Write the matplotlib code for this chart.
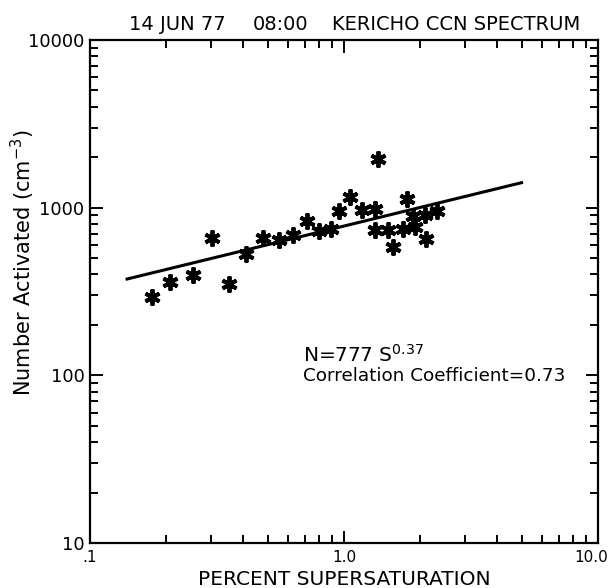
import numpy as np
import matplotlib
matplotlib.use("Agg")
import matplotlib.pyplot as plt
from matplotlib.ticker import FixedLocator, FixedFormatter, LogLocator, NullFormatter
from matplotlib.transforms import ScaledTranslation

# CCN spectrum, Kericho, 14 Jun 77 08:00
supersat = [0.176, 0.207, 0.254, 0.301, 0.354, 0.412, 0.480, 0.553, 0.630, 0.712,
            0.797, 0.886, 0.958, 1.056, 1.175, 1.326, 1.366, 1.326, 1.488, 1.566,
            1.70, 1.769, 1.862, 1.909, 2.077, 2.108, 2.32]
n_activated = [292, 362, 399, 661, 349, 530, 661, 638, 684, 828,
               722, 750, 960, 1158, 964, 986, 1950, 739, 739, 581,
               746, 1133, 896, 767, 908, 653, 951]

fit_coef = 777
fit_exp = 0.37
fit_range = [0.14, 5.0]

x_ticks = [0.1, 1.0, 10.0]
x_labels = [".1", "1.0", "10.0"]
y_ticks = [10, 100, 1000, 10000]
y_labels = ["10", "100", "1000", "10000"]

fig = plt.figure(figsize=(6.11, 5.88), dpi=100)
ax = fig.add_axes([90 / 611, 45 / 588, 508 / 611, 503 / 588])

s_fit = np.logspace(np.log10(fit_range[0]), np.log10(fit_range[1]), 100)
ax.plot(s_fit, fit_coef * s_fit ** fit_exp, color="black", lw=2.2)
ax.plot(supersat, n_activated, linestyle="none", marker=(6, 2, 0),
        markersize=11.5, markeredgewidth=2.8, color="black")

ax.set_xscale("log")
ax.set_yscale("log")
ax.set_xlim(0.1, 10)
ax.set_ylim(10, 10000)

ax.xaxis.set_major_locator(FixedLocator(x_ticks))
ax.xaxis.set_major_formatter(FixedFormatter(x_labels))
ax.yaxis.set_major_locator(FixedLocator(y_ticks))
ax.yaxis.set_major_formatter(FixedFormatter(y_labels))
ax.xaxis.set_minor_locator(LogLocator(base=10, subs=np.arange(2, 10)))
ax.yaxis.set_minor_locator(LogLocator(base=10, subs=np.arange(2, 10)))
ax.xaxis.set_minor_formatter(NullFormatter())
ax.yaxis.set_minor_formatter(NullFormatter())

ax.tick_params(which="both", direction="in", top=True, right=True, width=1.4)
ax.tick_params(which="major", length=9)
ax.tick_params(which="minor", length=5.5)
ax.tick_params(axis="x", which="major", labelsize=11, pad=5)
ax.tick_params(axis="y", which="major", labelsize=13, pad=4)
for sp in ax.spines.values():
    sp.set_linewidth(1.6)

# nudge the last x label so it stays inside the figure
last = ax.get_xticklabels()[-1]
last.set_transform(last.get_transform() + ScaledTranslation(-5 / 72, 0, fig.dpi_scale_trans))

ax.set_xlabel("PERCENT SUPERSATURATION", fontsize=14.5)
ax.xaxis.set_label_coords(0.5, -0.054)
ax.set_ylabel("Number Activated (cm$^{-3}$)", fontsize=15)
ax.yaxis.set_label_coords(-0.104, 0.557)

fig.text(177 / 611, 1 - 24 / 588, "14 JUN 77", fontsize=14,
         ha="center", va="center")
fig.text(281 / 611, 1 - 24 / 588, "08:00", fontsize=14,
         ha="center", va="center")
fig.text(456 / 611, 1 - 24 / 588, "KERICHO CCN SPECTRUM", fontsize=14,
         ha="center", va="center")

ax.text(0.419, 0.374, "N=777 S$^{0.37}$", transform=ax.transAxes,
        fontsize=14.5, va="center", ha="left")
ax.text(0.419, 0.332, "Correlation Coefficient=0.73", transform=ax.transAxes,
        fontsize=13.2, va="center", ha="left")

fig.savefig("out.png", dpi=100)
